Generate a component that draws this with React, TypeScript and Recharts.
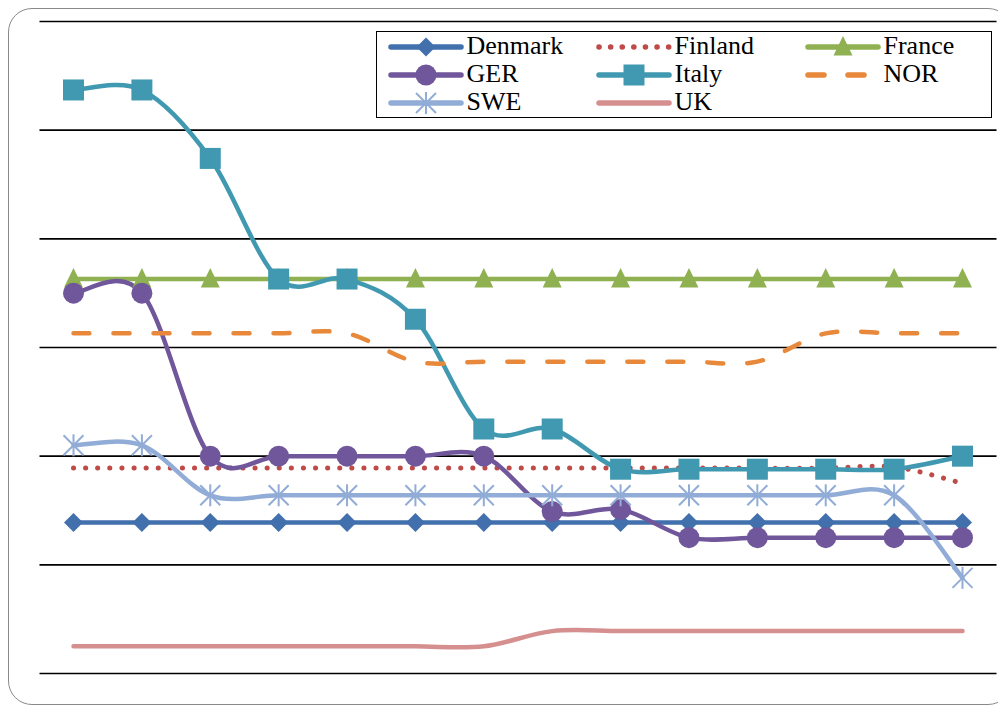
import React from "react";
import { CartesianGrid, Line, LineChart, XAxis, YAxis } from "recharts";

const periods = ["1", "2", "3", "4", "5", "6", "7", "8", "9", "10", "11", "12", "13", "14"];

const denmark = [13.9, 13.9, 13.9, 13.9, 13.9, 13.9, 13.9, 13.9, 13.9, 13.9, 13.9, 13.9, 13.9, 13.9];
const finland = [18.9, 18.9, 18.9, 18.9, 18.9, 18.9, 18.9, 18.9, 18.9, 18.9, 18.9, 18.9, 19.0, 17.5];
const france = [36.3, 36.3, 36.3, 36.3, 36.3, 36.3, 36.3, 36.3, 36.3, 36.3, 36.3, 36.3, 36.3, 36.3];
const ger = [35.0, 35.0, 20.0, 20.0, 20.0, 20.0, 20.0, 14.9, 15.1, 12.5, 12.5, 12.5, 12.5, 12.5];
const italy = [53.7, 53.7, 47.4, 36.3, 36.3, 32.6, 22.5, 22.5, 18.8, 18.8, 18.8, 18.8, 18.8, 20.0];
const nor = [31.3, 31.3, 31.3, 31.3, 31.3, 28.7, 28.7, 28.7, 28.7, 28.7, 28.7, 31.3, 31.3, 31.3];
const swe = [21.0, 21.0, 16.4, 16.4, 16.4, 16.4, 16.4, 16.4, 16.4, 16.4, 16.4, 16.4, 16.4, 8.8];
const uk = [2.5, 2.5, 2.5, 2.5, 2.5, 2.5, 2.5, 3.9, 3.9, 3.9, 3.9, 3.9, 3.9, 3.9];

const yTicks = [0, 10, 20, 30, 40, 50, 60];

const data = periods.map((p, i) => ({
  period: p,
  Denmark: denmark[i],
  Finland: finland[i],
  France: france[i],
  GER: ger[i],
  Italy: italy[i],
  NOR: nor[i],
  SWE: swe[i],
  UK: uk[i],
}));

const COLORS = {
  Denmark: "#4170AD",
  Finland: "#BE4B48",
  France: "#8FB152",
  GER: "#70569A",
  Italy: "#4099B0",
  NOR: "#E8883A",
  SWE: "#91ACD6",
  UK: "#D68F8F",
};

// Excel-style smoothed line (bezier through the points)
const smoothCurve = (context: any) => {
  let pts: number[][] = [];
  return {
    areaStart() {},
    areaEnd() {},
    lineStart() {
      pts = [];
    },
    point(x: number, y: number) {
      pts.push([+x, +y]);
    },
    lineEnd() {
      if (!pts.length) return;
      context.moveTo(pts[0][0], pts[0][1]);
      for (let i = 0; i < pts.length - 1; i++) {
        const p0 = pts[i - 1] || pts[i];
        const p1 = pts[i];
        const p2 = pts[i + 1];
        const p3 = pts[i + 2] || p2;
        context.bezierCurveTo(
          p1[0] + (p2[0] - p0[0]) / 6,
          p1[1] + (p2[1] - p0[1]) / 6,
          p2[0] - (p3[0] - p1[0]) / 6,
          p2[1] - (p3[1] - p1[1]) / 6,
          p2[0],
          p2[1]
        );
      }
    },
  };
};

type Shape = "diamond" | "circle" | "triangle" | "square" | "star" | "none";

const Marker = ({ shape, cx, cy, color }: { shape: Shape; cx: number; cy: number; color: string }) => {
  if (shape === "diamond")
    return <polygon points={`${cx},${cy - 9.5} ${cx + 9.5},${cy} ${cx},${cy + 9.5} ${cx - 9.5},${cy}`} fill={color} />;
  if (shape === "circle") return <circle cx={cx} cy={cy} r={10.5} fill={color} />;
  if (shape === "triangle")
    return <polygon points={`${cx},${cy - 11} ${cx + 9.5},${cy + 8.5} ${cx - 9.5},${cy + 8.5}`} fill={color} />;
  if (shape === "square") return <rect x={cx - 10.5} y={cy - 10.5} width={21} height={21} fill={color} />;
  if (shape === "star")
    return (
      <g stroke={color} strokeWidth={2}>
        <line x1={cx} y1={cy - 11} x2={cx} y2={cy + 11} />
        <line x1={cx - 10} y1={cy - 10} x2={cx + 10} y2={cy + 10} />
        <line x1={cx - 10} y1={cy + 10} x2={cx + 10} y2={cy - 10} />
      </g>
    );
  return null;
};

const dotFor = (shape: Shape, color: string) => (props: any) => (
  <g key={`d-${props.index}`}>
    <Marker shape={shape} cx={props.cx} cy={props.cy} color={color} />
  </g>
);

const series: { key: keyof typeof COLORS; shape: Shape; dash?: string }[] = [
  { key: "Denmark", shape: "diamond" },
  { key: "Finland", shape: "none", dash: "0.1 12" },
  { key: "France", shape: "triangle" },
  { key: "GER", shape: "circle" },
  { key: "Italy", shape: "square" },
  { key: "NOR", shape: "none", dash: "16 24" },
  { key: "SWE", shape: "star" },
  { key: "UK", shape: "none" },
];

const LegendBox = () => (
  <div
    style={{
      position: "absolute",
      left: 366.5,
      top: 21.5,
      width: 616,
      height: 87,
      border: "1.5px solid #000",
      boxSizing: "border-box",
      background: "#fff",
      fontFamily: "Liberation Serif, Times New Roman, serif",
      fontSize: 26,
      zIndex: 2,
    }}
  >
    {series.map((s, i) => {
      const col = i % 3;
      const row = Math.floor(i / 3);
      const left = [11, 219, 428][col];
      const top = 15 + row * 28;
      const color = COLORS[s.key];
      return (
        <div key={s.key}>
          <svg style={{ position: "absolute", left, top: top - 11 }} width={76} height={22}>
            <line
              x1={3}
              y1={11}
              x2={73}
              y2={11}
              stroke={color}
              strokeWidth={5.5}
              strokeLinecap="round"
              strokeDasharray={s.dash === "0.1 12" ? "0.1 11.5" : s.dash}
            />
            <Marker shape={s.shape} cx={38} cy={11} color={color} />
          </svg>
          <span style={{ position: "absolute", left: left + 79, top: top - 16, lineHeight: "30px" }}>{s.key}</span>
        </div>
      );
    })}
  </div>
);

export default function App() {
  return (
    <div
      style={{
        position: "relative",
        width: 1004,
        height: 697,
        border: "1.5px solid #8a8a8a",
        borderRadius: 24,
        boxSizing: "border-box",
        background: "#fff",
      }}
    >
      <style>{"html, body { overflow: hidden; }"}</style>
      <div style={{ position: "absolute", left: 0, top: 0 }}>
        <LineChart width={990} height={690} data={data} margin={{ top: 12.5, right: 2.5, bottom: 25.5, left: 30.5 }}>
          <CartesianGrid vertical={false} stroke="#000" strokeWidth={1.6} />
          <XAxis dataKey="period" hide padding={{ left: 34, right: 34 }} />
          <YAxis hide domain={[0, 60]} ticks={yTicks} />
          {series.map((s) => (
            <Line
              key={s.key}
              dataKey={s.key}
              type={smoothCurve as any}
              stroke={COLORS[s.key]}
              strokeWidth={s.dash === "0.1 12" ? 5 : 4.5}
              strokeDasharray={s.dash}
              strokeLinecap="round"
              dot={s.shape === "none" ? false : dotFor(s.shape, COLORS[s.key])}
              activeDot={false}
              isAnimationActive={false}
            />
          ))}
        </LineChart>
      </div>
      <LegendBox />
    </div>
  );
}
